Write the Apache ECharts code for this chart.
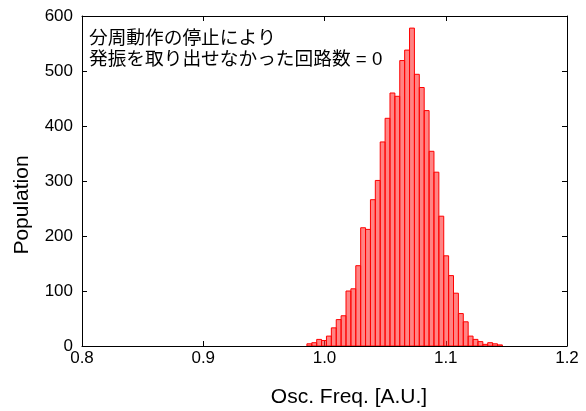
<!DOCTYPE html>
<html>
<head>
<meta charset="utf-8">
<script src="https://cdn.jsdelivr.net/npm/echarts@6/dist/echarts.min.js"></script>
<style>
html,body{margin:0;padding:0;background:#fff;}
#chart{width:586px;height:411px;}
</style>
</head>
<body>
<div id="chart"></div>
<script>
// Histogram bins (left edge of first bin and bin width, in A.U.)
const binStart = 0.9855;
const binWidth = 0.00403;
// Counts per bin
const counts = [4, 6, 12, 10, 18, 33, 48, 55, 100, 104, 146, 215, 212, 266, 301, 371, 414, 460, 454, 519,
                538, 578, 494, 470, 428, 354, 316, 236, 164, 128, 96, 59, 44, 18, 12, 8, 3, 6, 4, 2];
const xTicks = [0.8, 0.9, 1.0, 1.1, 1.2];
const yTicks = [0, 100, 200, 300, 400, 500, 600];
const xTitle = 'Osc. Freq. [A.U.]';
const yTitle = 'Population';
const note = '分周動作の停止により\n発振を取り出せなかった回路数 = 0';

const data = counts.map((c, i) => [binStart + i * binWidth, binStart + (i + 1) * binWidth, c]);

const chart = echarts.init(document.getElementById('chart'), null, {renderer: 'canvas'});
const labelFont = {fontFamily: 'Liberation Sans, Arial, sans-serif', fontSize: 17, color: '#000'};
const baseX = {
  type: 'value', min: xTicks[0], max: xTicks[xTicks.length - 1], interval: 0.1,
  axisLine: {show: true, onZero: false, lineStyle: {color: '#000', width: 1}},
  axisTick: {show: true, inside: true, length: 5, lineStyle: {color: '#000'}},
  splitLine: {show: false}
};
const baseY = {
  type: 'value', min: yTicks[0], max: yTicks[yTicks.length - 1], interval: 100,
  axisLine: {show: true, onZero: false, lineStyle: {color: '#000', width: 1}},
  axisTick: {show: true, inside: true, length: 5, lineStyle: {color: '#000'}},
  splitLine: {show: false}
};
chart.setOption({
  animation: false,
  backgroundColor: '#fff',
  grid: {left: 82, right: 19, top: 16, bottom: 65, containLabel: false},
  xAxis: [
    Object.assign({}, baseX, {position: 'bottom',
      axisLabel: Object.assign({show: true, margin: 4, formatter: v => v.toFixed(1)}, labelFont)}),
    Object.assign({}, baseX, {position: 'top', axisLabel: {show: false}})
  ],
  yAxis: [
    Object.assign({}, baseY, {position: 'left',
      axisLabel: Object.assign({show: true, margin: 9}, labelFont)}),
    Object.assign({}, baseY, {position: 'right', axisLabel: {show: false}})
  ],
  series: [{
    type: 'custom',
    xAxisIndex: 0, yAxisIndex: 0,
    encode: {x: [0, 1], y: 2},
    data: data,
    clip: true,
    renderItem: function (params, api) {
      const p0 = api.coord([api.value(0), api.value(2)]);
      const p1 = api.coord([api.value(1), 0]);
      return {
        type: 'rect',
        shape: {x: p0[0], y: p0[1], width: p1[0] - p0[0], height: p1[1] - p0[1]},
        style: {fill: 'rgba(255,50,50,0.6)', stroke: '#ff0000', lineWidth: 1}
      };
    }
  }],
  graphic: [
    {type: 'text', left: 89, top: 29,
      style: {text: note, font: '18.7px "Liberation Sans", "Noto Sans CJK JP"', lineHeight: 20.5, fill: '#000'}},
    {type: 'text', x: 349, y: 397, style: {text: xTitle, font: '21px "Liberation Sans", Arial, sans-serif',
      fill: '#000', align: 'center', verticalAlign: 'middle'}},
    {type: 'text', x: 22.5, y: 205, rotation: Math.PI / 2, style: {text: yTitle,
      font: '21px "Liberation Sans", Arial, sans-serif', fill: '#000', align: 'center', verticalAlign: 'middle'}}
  ]
});
</script>
</body>
</html>
